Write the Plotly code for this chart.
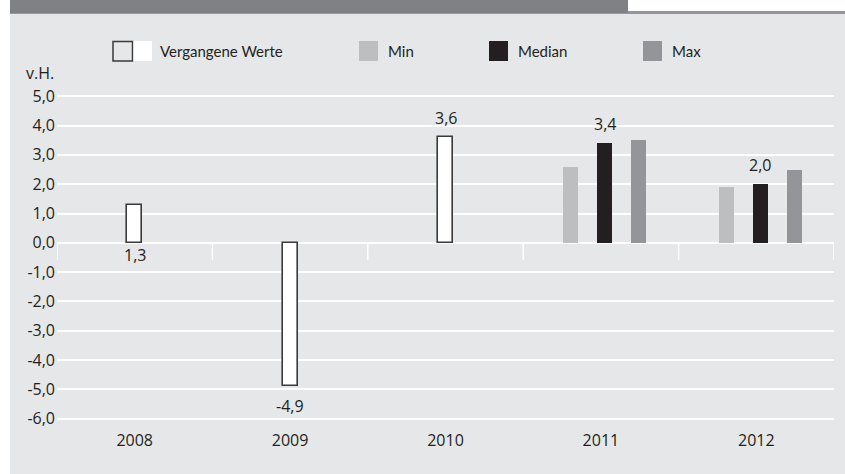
import plotly.graph_objects as go

# ---------------- data ----------------
years = ["2008", "2009", "2010", "2011", "2012"]
past_years = ["2008", "2009", "2010"]
past_values = [1.3, -4.9, 3.6]
fc_years = ["2011", "2012"]
fc_min = [2.6, 1.9]
fc_median = [3.4, 2.0]
fc_max = [3.5, 2.5]
ytick_vals = [5, 4, 3, 2, 1, 0, -1, -2, -3, -4, -5, -6]
ytick_text = ["5,0", "4,0", "3,0", "2,0", "1,0", "0,0", "-1,0", "-2,0", "-3,0", "-4,0", "-5,0", "-6,0"]
legend_labels = ["Vergangene Werte", "Min", "Median", "Max"]

# ---------------- style ----------------
W, H = 845, 474
ML, MR, MT, MB = 57, 11, 86, 45
PW, PH = W - ML - MR, H - MT - MB
Y0, Y1 = -6.35, 5.35
BG = "#e6e7e8"
C_MIN, C_MED, C_MAX = "#bcbec0", "#231f20", "#939598"
TXT = "#231f20"
BW = 0.0965  # bar width in category units

def xp(px):
    return (px - ML) / PW

def yp(py):
    return (H - MB - py) / PH

xi = {y: i for i, y in enumerate(years)}
px_x = [xi[y] for y in past_years]
fc_x = [xi[y] for y in fc_years]

fig = go.Figure()
fig.add_bar(x=px_x, y=past_values, width=BW, offset=-0.047,
            marker=dict(color="white", line=dict(color="#3a3a3a", width=1.6)),
            showlegend=False, hoverinfo="skip")
fig.add_bar(x=fc_x, y=fc_min, width=BW, offset=-0.241,
            marker=dict(color=C_MIN, line=dict(width=0)), showlegend=False)
fig.add_bar(x=fc_x, y=fc_median, width=BW, offset=-0.0225,
            marker=dict(color=C_MED, line=dict(width=0)), showlegend=False)
fig.add_bar(x=fc_x, y=fc_max, width=BW, offset=0.196,
            marker=dict(color=C_MAX, line=dict(width=0)), showlegend=False)

ann = []
def fmt(v):
    return f"{v:.1f}".replace(".", ",")

# value labels
for x, v in zip(px_x, past_values):
    cx = x - 0.047 + BW / 2
    if v < 0:
        ann.append(dict(x=cx, y=v, text=fmt(v), yanchor="top", yshift=-7, showarrow=False))
    elif v < 2:
        ann.append(dict(x=cx, y=0, text=fmt(v), yanchor="top", yshift=1, showarrow=False))
    else:
        ann.append(dict(x=cx, y=v, text=fmt(v), yanchor="bottom", yshift=6, showarrow=False))
for x, v in zip(fc_x, fc_median):
    cx = x - 0.0225 + BW / 2
    ann.append(dict(x=cx, y=v, text=fmt(v), yanchor="bottom", yshift=6, showarrow=False))
for a in ann:
    a.update(xref="x", yref="y", font=dict(family="Open Sans", size=16, color=TXT))

# unit label
ann.append(dict(xref="paper", yref="paper", x=xp(24), y=yp(73), xanchor="left", yanchor="middle",
                text="v.H.", showarrow=False, font=dict(family="Open Sans", size=16, color=TXT)))

# legend texts
leg_text_x = [158, 386, 516, 670]
for lbl, lx in zip(legend_labels, leg_text_x):
    ann.append(dict(xref="paper", yref="paper", x=xp(lx), y=yp(51), xanchor="left", yanchor="middle",
                    text=lbl, showarrow=False, font=dict(family="Lato", size=15, color=TXT)))

shapes = []
# panel background
shapes.append(dict(type="rect", xref="paper", yref="paper", x0=xp(10), x1=xp(W + 5), y0=yp(H + 5), y1=yp(13),
                   fillcolor=BG, line=dict(width=0), layer="below"))
# top band
shapes.append(dict(type="rect", xref="paper", yref="paper", x0=xp(10), x1=xp(628), y0=yp(13.7), y1=yp(-2),
                   fillcolor="#808184", line=dict(width=0), layer="below"))
shapes.append(dict(type="rect", xref="paper", yref="paper", x0=xp(628), x1=xp(W + 5), y0=yp(14), y1=yp(11),
                   fillcolor="#939598", line=dict(width=0), layer="below"))
# category dividers below the zero line
for i in range(len(years) + 1):
    shapes.append(dict(type="line", xref="x", yref="y", x0=i - 0.5, x1=i - 0.5, y0=0, y1=-0.58,
                       line=dict(color="white", width=1.5), layer="below"))
# legend markers
shapes.append(dict(type="rect", xref="paper", yref="paper", x0=xp(113), x1=xp(132.5), y0=yp(61), y1=yp(41.5),
                   fillcolor=BG, line=dict(color="#3a3a3a", width=1.5)))
shapes.append(dict(type="rect", xref="paper", yref="paper", x0=xp(133.5), x1=xp(152), y0=yp(61), y1=yp(41),
                   fillcolor="white", line=dict(width=0)))
for x0, c in [(359, C_MIN), (489, C_MED), (643, C_MAX)]:
    shapes.append(dict(type="rect", xref="paper", yref="paper", x0=xp(x0), x1=xp(x0 + 19), y0=yp(61), y1=yp(41),
                       fillcolor=c, line=dict(width=0)))

fig.update_layout(
    width=W, height=H, autosize=False,
    margin=dict(l=ML, r=MR, t=MT, b=MB, pad=0),
    paper_bgcolor="white", plot_bgcolor="rgba(0,0,0,0)",
    barmode="overlay", bargap=0,
    showlegend=False,
    annotations=ann, shapes=shapes,
    font=dict(family="Open Sans", size=16, color=TXT),
    xaxis=dict(range=[-0.5, len(years) - 0.5], tickvals=list(range(len(years))), ticktext=years,
               showgrid=False, zeroline=False, showline=False, ticks="",
               tickfont=dict(family="Open Sans", size=16, color=TXT), fixedrange=True),
    yaxis=dict(range=[Y0, Y1], tickvals=ytick_vals, ticktext=ytick_text,
               showgrid=True, gridcolor="white", gridwidth=1.5,
               zeroline=True, zerolinecolor="white", zerolinewidth=1.5,
               showline=False, ticks="", ticklabelstandoff=1,
               tickfont=dict(family="Open Sans", size=16, color=TXT), fixedrange=True),
)

fig.write_html("out.html")
